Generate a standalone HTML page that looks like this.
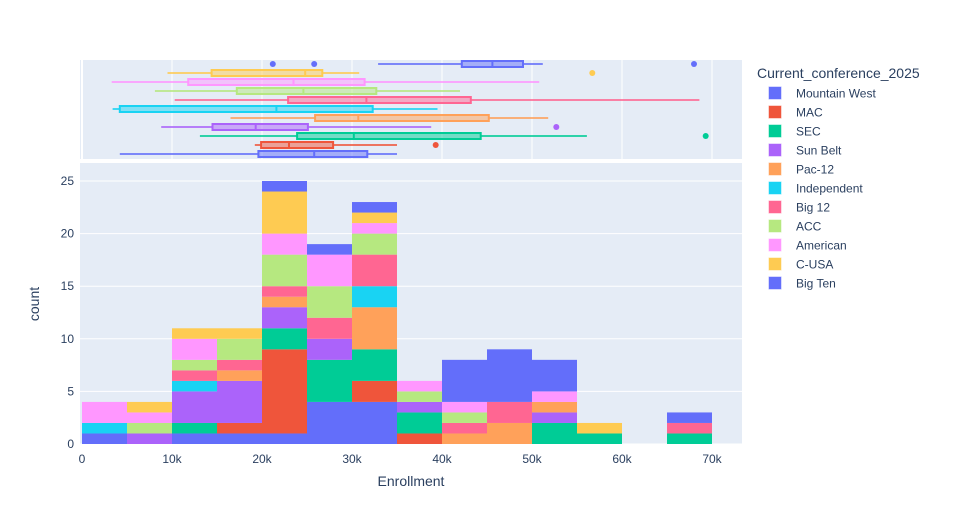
<!DOCTYPE html>
<html><head><meta charset="utf-8">
<style>
body{margin:0;background:#fff;}
svg{display:block;font-family:"Liberation Sans",Arial,sans-serif;}
</style></head>
<body>
<svg id="chart" width="954" height="525" xmlns="http://www.w3.org/2000/svg">
<rect x="0" y="0" width="954" height="525" fill="#fff"/>
<rect x="80" y="60" width="662" height="99" fill="#e5ecf6"/>
<rect x="80" y="163" width="662" height="281" fill="#e5ecf6"/>
<g id="grid"></g>
<g id="bars"></g>
<g id="boxes"></g>
<g id="axes"></g>
<g id="legend"></g>
<text x="411" y="486" text-anchor="middle" font-size="14" fill="#2a3f5f">Enrollment</text>
<text x="39" y="304" text-anchor="middle" font-size="14" fill="#2a3f5f" transform="rotate(-90 39 304)">count</text>
</svg>
<script>
const conferences = ["Mountain West","MAC","SEC","Sun Belt","Pac-12","Independent","Big 12","ACC","American","C-USA","Big Ten"];
const colors = ["#636efa","#EF553B","#00cc96","#ab63fa","#FFA15A","#19d3f3","#FF6692","#B6E880","#FF97FF","#FECB52","#636efa"];
const binStarts = [0,5,10,15,20,25,30,35,40,45,50,55,60,65];
const countsMountainWest = [1,0,1,1,1,4,4,0,0,0,0,0,0,0];
const countsMAC         = [0,0,0,1,8,0,2,1,0,0,0,0,0,0];
const countsSEC         = [0,0,1,0,2,4,3,2,0,0,2,1,0,1];
const countsSunBelt     = [0,1,3,4,2,2,0,1,0,0,1,0,0,0];
const countsPac12       = [0,0,0,1,1,0,4,0,1,2,1,0,0,0];
const countsIndependent = [1,0,1,0,0,0,2,0,0,0,0,0,0,0];
const countsBig12       = [0,0,1,1,1,2,3,0,1,2,0,0,0,1];
const countsACC         = [0,1,1,2,3,3,2,1,1,0,0,0,0,0];
const countsAmerican    = [2,1,2,0,2,3,1,1,1,0,1,0,0,0];
const countsCUSA        = [0,1,1,1,4,0,1,0,0,0,0,1,0,0];
const countsBigTen      = [0,0,0,0,1,1,1,0,4,5,3,0,0,1];
const allCounts = [countsMountainWest,countsMAC,countsSEC,countsSunBelt,countsPac12,countsIndependent,countsBig12,countsACC,countsAmerican,countsCUSA,countsBigTen];
// box stats in k: [lowWhisker, q1, median, q3, highWhisker]
const boxMountainWest = [4.2,19.6,25.8,31.7,35.0];
const boxMAC = [19.2,19.9,23.0,27.9,35.0];
const boxSEC = [13.1,23.9,30.2,44.3,56.1];
const boxSunBelt = [8.8,14.5,19.3,25.1,38.8];
const boxPac12 = [16.5,25.9,30.7,45.2,51.8];
const boxIndependent = [3.4,4.2,21.6,32.3,39.5];
const boxBig12 = [10.3,22.9,31.6,43.2,68.6];
const boxACC = [8.1,17.2,24.6,32.7,42.0];
const boxAmerican = [3.3,11.8,23.5,31.4,50.8];
const boxCUSA = [9.5,14.4,24.8,26.7,30.8];
const boxBigTen = [32.9,42.2,45.6,49.0,51.2];
const allBoxes = [boxMountainWest,boxMAC,boxSEC,boxSunBelt,boxPac12,boxIndependent,boxBig12,boxACC,boxAmerican,boxCUSA,boxBigTen];
const outliersMAC = [39.3];
const outliersSEC = [69.3];
const outliersSunBelt = [52.7];
const outliersCUSA = [56.7];
const outliersBigTen = [21.2,25.8,68.0];
const allOutliers = [[],outliersMAC,outliersSEC,outliersSunBelt,[],[],[],[],[],outliersCUSA,outliersBigTen];
const xTicks = [0,10,20,30,40,50,60,70];
const xTickLabels = ["0","10k","20k","30k","40k","50k","60k","70k"];
const yTicks = [0,5,10,15,20,25];

const NS="http://www.w3.org/2000/svg";
const X = v => 82 + v*9;
const Y = c => 444 - c*10.52;
const rowY = i => 154 - i*9;
function mk(tag, attrs, parent){const e=document.createElementNS(NS,tag);for(const k in attrs)e.setAttribute(k,attrs[k]);parent.appendChild(e);return e;}
const grid=document.getElementById('grid'),bars=document.getElementById('bars'),boxes=document.getElementById('boxes'),axes=document.getElementById('axes'),legend=document.getElementById('legend');

xTicks.forEach((t,i)=>{
  const g1=mk('line',{x1:X(t),x2:X(t),y1:60,y2:159,stroke:'#fff','stroke-width':i===0?2:1},grid);
  
  
  const lab=mk('text',{x:X(t),y:463,'text-anchor':'middle','font-size':12,fill:'#2a3f5f'},axes);
  lab.textContent=xTickLabels[i];
  
  
});
yTicks.forEach(t=>{
  const g=mk('line',{x1:80,x2:742,y1:Y(t),y2:Y(t),stroke:'#fff','stroke-width':1},grid);
  
  
  const lab=mk('text',{x:74,y:Y(t)+4,'text-anchor':'end','font-size':12,fill:'#2a3f5f'},axes);
  lab.textContent=String(t);
  
  
});

const base = binStarts.map(()=>0);
allCounts.forEach((arr,ti)=>{
  arr.forEach((c,bi)=>{
    if(!c) return;
    const r=mk('rect',{x:X(binStarts[bi]),y:Y(base[bi]+c),width:X(binStarts[bi]+5)-X(binStarts[bi]),height:Y(base[bi])-Y(base[bi]+c),fill:colors[ti]},bars);
    
    
    base[bi]+=c;
  });
});

allBoxes.forEach((b,i)=>{
  const y=rowY(i), col=colors[i];
  const g=mk('g',{},boxes);
  
  
  mk('line',{x1:X(b[0]),x2:X(b[1]),y1:y,y2:y,stroke:col,'stroke-width':2,opacity:0.8},g);
  mk('line',{x1:X(b[3]),x2:X(b[4]),y1:y,y2:y,stroke:col,'stroke-width':2,opacity:0.8},g);
  mk('rect',{x:X(b[1]),y:y-3,width:X(b[3])-X(b[1]),height:6,fill:col,'fill-opacity':0.5,stroke:col,'stroke-width':2},g);
  mk('line',{x1:X(b[2]),x2:X(b[2]),y1:y-3,y2:y+3,stroke:col,'stroke-width':2},g);
  allOutliers[i].forEach(o=>{
    const c=mk('circle',{cx:X(o),cy:y,r:3,fill:col},g);
    
    
  });
});

const lt=mk('text',{x:757,y:78,'font-size':14,fill:'#2a3f5f'},legend);
lt.textContent='Current_conference_2025';


conferences.forEach((c,i)=>{
  const y=93+i*19;
  const g=mk('g',{},legend);
  
  
  mk('rect',{x:769,y:y-6,width:12,height:12,fill:colors[i],stroke:colors[i],'stroke-opacity':0.5},g);
  const t=mk('text',{x:796,y:y+4.5,'font-size':12,fill:'#2a3f5f'},g);
  t.textContent=c;
});
</script>
</body></html>
